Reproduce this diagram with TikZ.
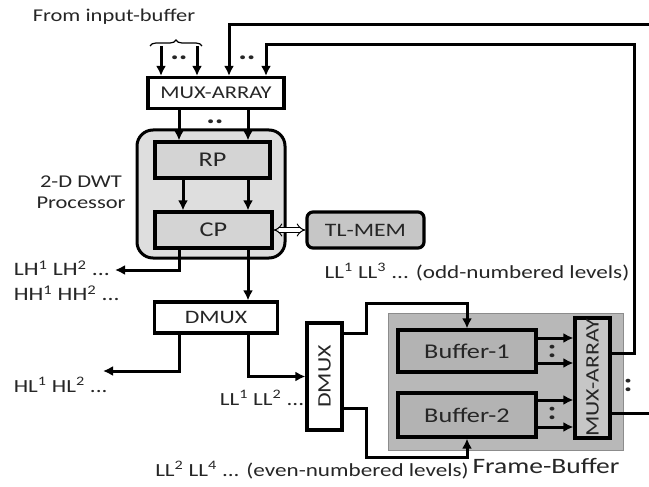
\documentclass[tikz,border=0pt]{standalone}
\usepackage{fontspec}
\setmainfont[FakeStretch=1.25]{Carlito}
\usetikzlibrary{positioning,arrows.meta,decorations.pathreplacing}
\definecolor{procgray}{HTML}{DEDEDE}
\definecolor{unitgray}{HTML}{D4D4D4}
\definecolor{memgray}{HTML}{C6C6C6}
\definecolor{fbgray}{HTML}{B8B8B8}
\definecolor{bufgray}{HTML}{B3B3B3}

\begin{document}
\begin{tikzpicture}[x=1pt,y=-1pt,>={Latex[length=10pt,width=10pt]},line width=3pt,
        font=\fontsize{19}{22}\selectfont,text=black!85,
        blk/.style={draw,line width=3.2pt,inner sep=0pt},
        lbl/.style={font=\fontsize{18.5}{24}\selectfont},
        dotmark/.style={font=\fontsize{26}{26}\selectfont\bfseries,inner sep=0pt}]
        \useasboundingbox (0,0) rectangle (649,487);
        % input side
        \node[font=\fontsize{18}{22}\selectfont] (inlbl) at (114,17) {From input-buffer};
        \node[blk,minimum width=136pt,minimum height=31pt,font=\fontsize{18}{22}\selectfont] (muxtop) at (216,93) {MUX-ARRAY};
        \coordinate (in1) at (161,46);
        \coordinate (in2) at (197,46);
        \draw[decorate,decoration={brace,amplitude=6pt},line width=1.2pt] (150,46) -- (202,46);
        \node[dotmark] (dotsa) at (179,58) {..};
        \node[dotmark] (dotsb) at (247,58) {..};
        % processor
        \node[draw,fill=procgray,rounded corners=16pt,minimum width=148pt,minimum height=128pt] (proc) at (211,194) {};
        \node[blk,fill=unitgray,minimum width=115pt,minimum height=36pt,font=\fontsize{21}{24}\selectfont] (rp) at (212.5,160) {RP};
        \node[blk,fill=unitgray,minimum width=117pt,minimum height=36pt,font=\fontsize{21}{24}\selectfont] (cp) at (213.5,230) {CP};
        \node[blk,fill=memgray,rounded corners=6pt,minimum width=117pt,minimum height=36pt] (tlmem) at (365.5,230) {TL-MEM};
        \node[align=center,font=\fontsize{18}{21}\selectfont] (proclbl) at (81,192) {2-D DWT\\Processor};
        \node[dotmark] (dotsc) at (215,122) {..};
        \node[blk,minimum width=123pt,minimum height=31pt] (dmux) at (216,317.5) {DMUX};
        \node[blk,minimum width=35pt,minimum height=107pt] (dmuxv) at (324.5,376.5) {};
        \node[rotate=90] (dmuxvtxt) at (dmuxv) {DMUX};
        % frame buffer
        \node[draw=black!45,line width=1pt,fill=fbgray,minimum width=235pt,minimum height=137pt] (frame) at (505.5,381.5) {};
        \node[blk,fill=bufgray,minimum width=138pt,minimum height=42pt,font=\fontsize{21}{24}\selectfont] (buf1) at (467,351) {Buffer-1};
        \node[blk,fill=bufgray,minimum width=138pt,minimum height=44pt,font=\fontsize{21}{24}\selectfont] (buf2) at (467,415) {Buffer-2};
        \node[blk,fill=memgray,minimum width=35pt,minimum height=120pt] (muxr) at (592.5,378) {};
        \node[rotate=90] (muxrtxt) at (muxr) {MUX-ARRAY};
        \node[dotmark] (cola) at (552,351) {:};
        \node[dotmark] (colb) at (552,413) {:};
        \node[dotmark] (colc) at (628,385) {:};
        % labels
        \node[anchor=west,align=left,font=\fontsize{19}{25}\selectfont] (lhlbl) at (9,281) {LH\textsuperscript{1} LH\textsuperscript{2} ...\\HH\textsuperscript{1} HH\textsuperscript{2} ...};
        \node[lbl,anchor=west] (hllbl) at (9,385) {HL\textsuperscript{1} HL\textsuperscript{2} ...};
        \node[lbl] (llalbl) at (262,398) {LL\textsuperscript{1} LL\textsuperscript{2} ...};
        \node[lbl] (oddlbl) at (477,272) {LL\textsuperscript{1} LL\textsuperscript{3} ... (odd-numbered levels)};
        \node[lbl] (evenlbl) at (312,470) {LL\textsuperscript{2} LL\textsuperscript{4} ... (even-numbered levels)};
        \node[font=\fontsize{22}{24}\selectfont] (fblbl) at (546,466) {Frame-Buffer};
        % connector points
        \coordinate (fbin) at (649,25);
        \coordinate (fbtop) at (634,45);
        \coordinate (fbout) at (649,413);
        \coordinate (lhout) at (115,270);
        \coordinate (hlout) at (103,371);
        % connectors
        \draw[->] (in1) -- (in1 |- muxtop.north);
        \draw[->] (in2) -- (in2 |- muxtop.north);
        \draw[->] (fbin) -| (229,0 |- muxtop.north);
        \draw[->] (muxr.east |- 0,353) -| (fbtop) -| (266,0 |- muxtop.north);
        \draw (muxr.east |- fbout) -- (fbout);
        \draw[->] (179,0 |- muxtop.south) -- (179,0 |- rp.north);
        \draw[->] (248,0 |- muxtop.south) -- (248,0 |- rp.north);
        \draw[->] (183,0 |- rp.south) -- (183,0 |- cp.north);
        \draw[->] (248,0 |- rp.south) -- (248,0 |- cp.north);
        \draw[{Implies[length=5pt]}-{Implies[length=5pt]},double,double distance=3.5pt,line width=1pt] (cp.east) -- (tlmem.west);
        \draw[->] (179,0 |- cp.south) |- (lhout);
        \draw[->] (248,0 |- cp.south) -- (248,0 |- dmux.north);
        \draw[->] (179,0 |- dmux.south) |- (hlout);
        \draw[->] (248,0 |- dmux.south) |- (dmuxv.west);
        \draw[->] (dmuxv.east |- 0,333) -| (366,303) -| (buf1.north);
        \draw[->] (dmuxv.east |- 0,408) -| (366,457) -| (buf2.south);
        \foreach \yy/\bb in {338/buf1,363/buf1,400/buf2,427/buf2}
            \draw[->] (\bb.east |- 0,\yy) -- (muxr.west |- 0,\yy);
    \end{tikzpicture}
\end{document}
